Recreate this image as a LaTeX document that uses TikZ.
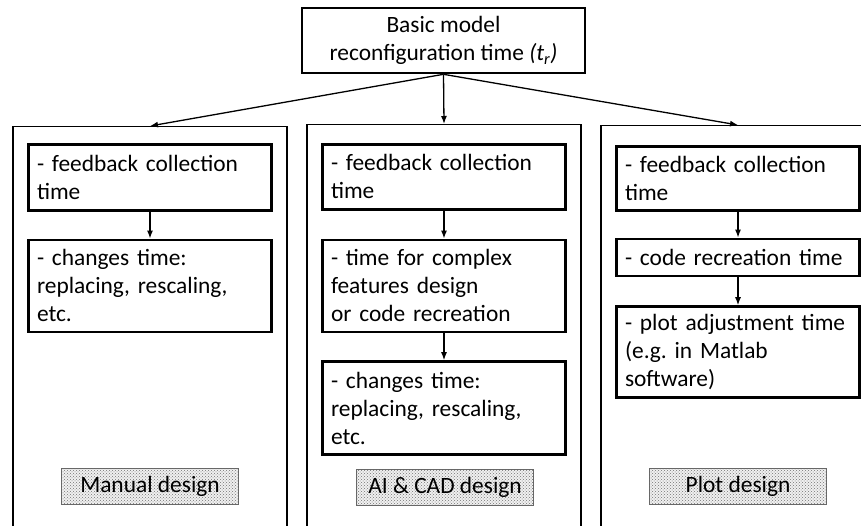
\documentclass[tikz,border=0pt]{standalone}
\usepackage{fontspec}
\setmainfont{Carlito}
\frenchspacing
\usetikzlibrary{positioning, arrows.meta, patterns}
\tikzset{
>={Latex[length=8pt, width=6pt]}, % small filled heads
x=1pt, y=-1pt, % one unit is one pixel of the sketch, y runs down
every node/.style={font=\fontsize{23.4}{28}\selectfont},
panel/.style={draw, line width=1.3pt, minimum width=274pt, minimum height=410pt, anchor=north, inner sep=0pt}, % tall frame of one variant
stepbox/.style={draw, line width=2.6pt, text width=226pt, inner xsep=8.5pt, inner ysep=0pt, align=left}, % one step inside a frame
namebox/.style={draw=gray!80!black, line width=0.8pt, fill=gray!12, postaction={pattern=crosshatch dots, pattern color=gray!90!black}, minimum width=177pt, minimum height=36pt, inner sep=0pt}, % dotted tag at the bottom
}

\begin{document}
\begin{tikzpicture}

            \useasboundingbox (0,0) rectangle (861,526);
            \clip (0,0) rectangle (861,526);

            \node[draw, line width=2.6pt, minimum width=283pt, minimum height=65pt, align=center, inner sep=0pt] (basic) at (443.5,40.5) {Basic model\\reconfiguration time \textit{(t\textsubscript{r})}};

            % manual design
            \node[panel] (pL) at (150,126) {};
            \node[stepbox, minimum height=66pt, below=17pt of pL.north] (l1) {- feedback collection\\time};
            \node[stepbox, minimum height=92pt, below=27pt of l1] (l2) {- changes time:\\replacing, rescaling,\\etc.};
            \node[namebox] (nL) at (150,486) {Manual design};

            % AI & CAD design
            \node[panel] (pM) at (444,124) {};
            \node[stepbox, minimum height=65pt, below=19pt of pM.north] (m1) {- feedback collection\\time};
            \node[stepbox, minimum height=92pt, below=28pt of m1] (m2) {- time for complex\\features design\\or code recreation};
            \node[stepbox, minimum height=93pt, below=27pt of m2] (m3) {- changes time:\\replacing, rescaling,\\etc.};
            \node[namebox] (nM) at (445,487) {AI \& CAD design};

            % plot design
            \node[panel] (pR) at (738,125) {};
            \node[stepbox, minimum height=64pt, below=20pt of pR.north] (r1) {- feedback collection\\time};
            \node[stepbox, minimum height=37pt, below=26pt of r1] (r2) {- code recreation time};
            \node[stepbox, minimum height=91pt, below=28pt of r2] (r3) {- plot adjustment time\\(e.g. in Matlab\\software)};
            \node[namebox] (nR) at (738,486) {Plot design};

            \draw[line width=1.3pt]
                    (basic.south) edge[->] (pL.north)
                    (basic.south) edge[->] (pM.north)
                    (basic.south) edge[->] (pR.north)
                    (l1) edge[->] (l2)
                    (m1) edge[->] (m2)
                    (m2) edge[->] (m3)
                    (r1) edge[->] (r2)
                    (r2) edge[->] (r3)
                    ;
        \end{tikzpicture}
\end{document}
